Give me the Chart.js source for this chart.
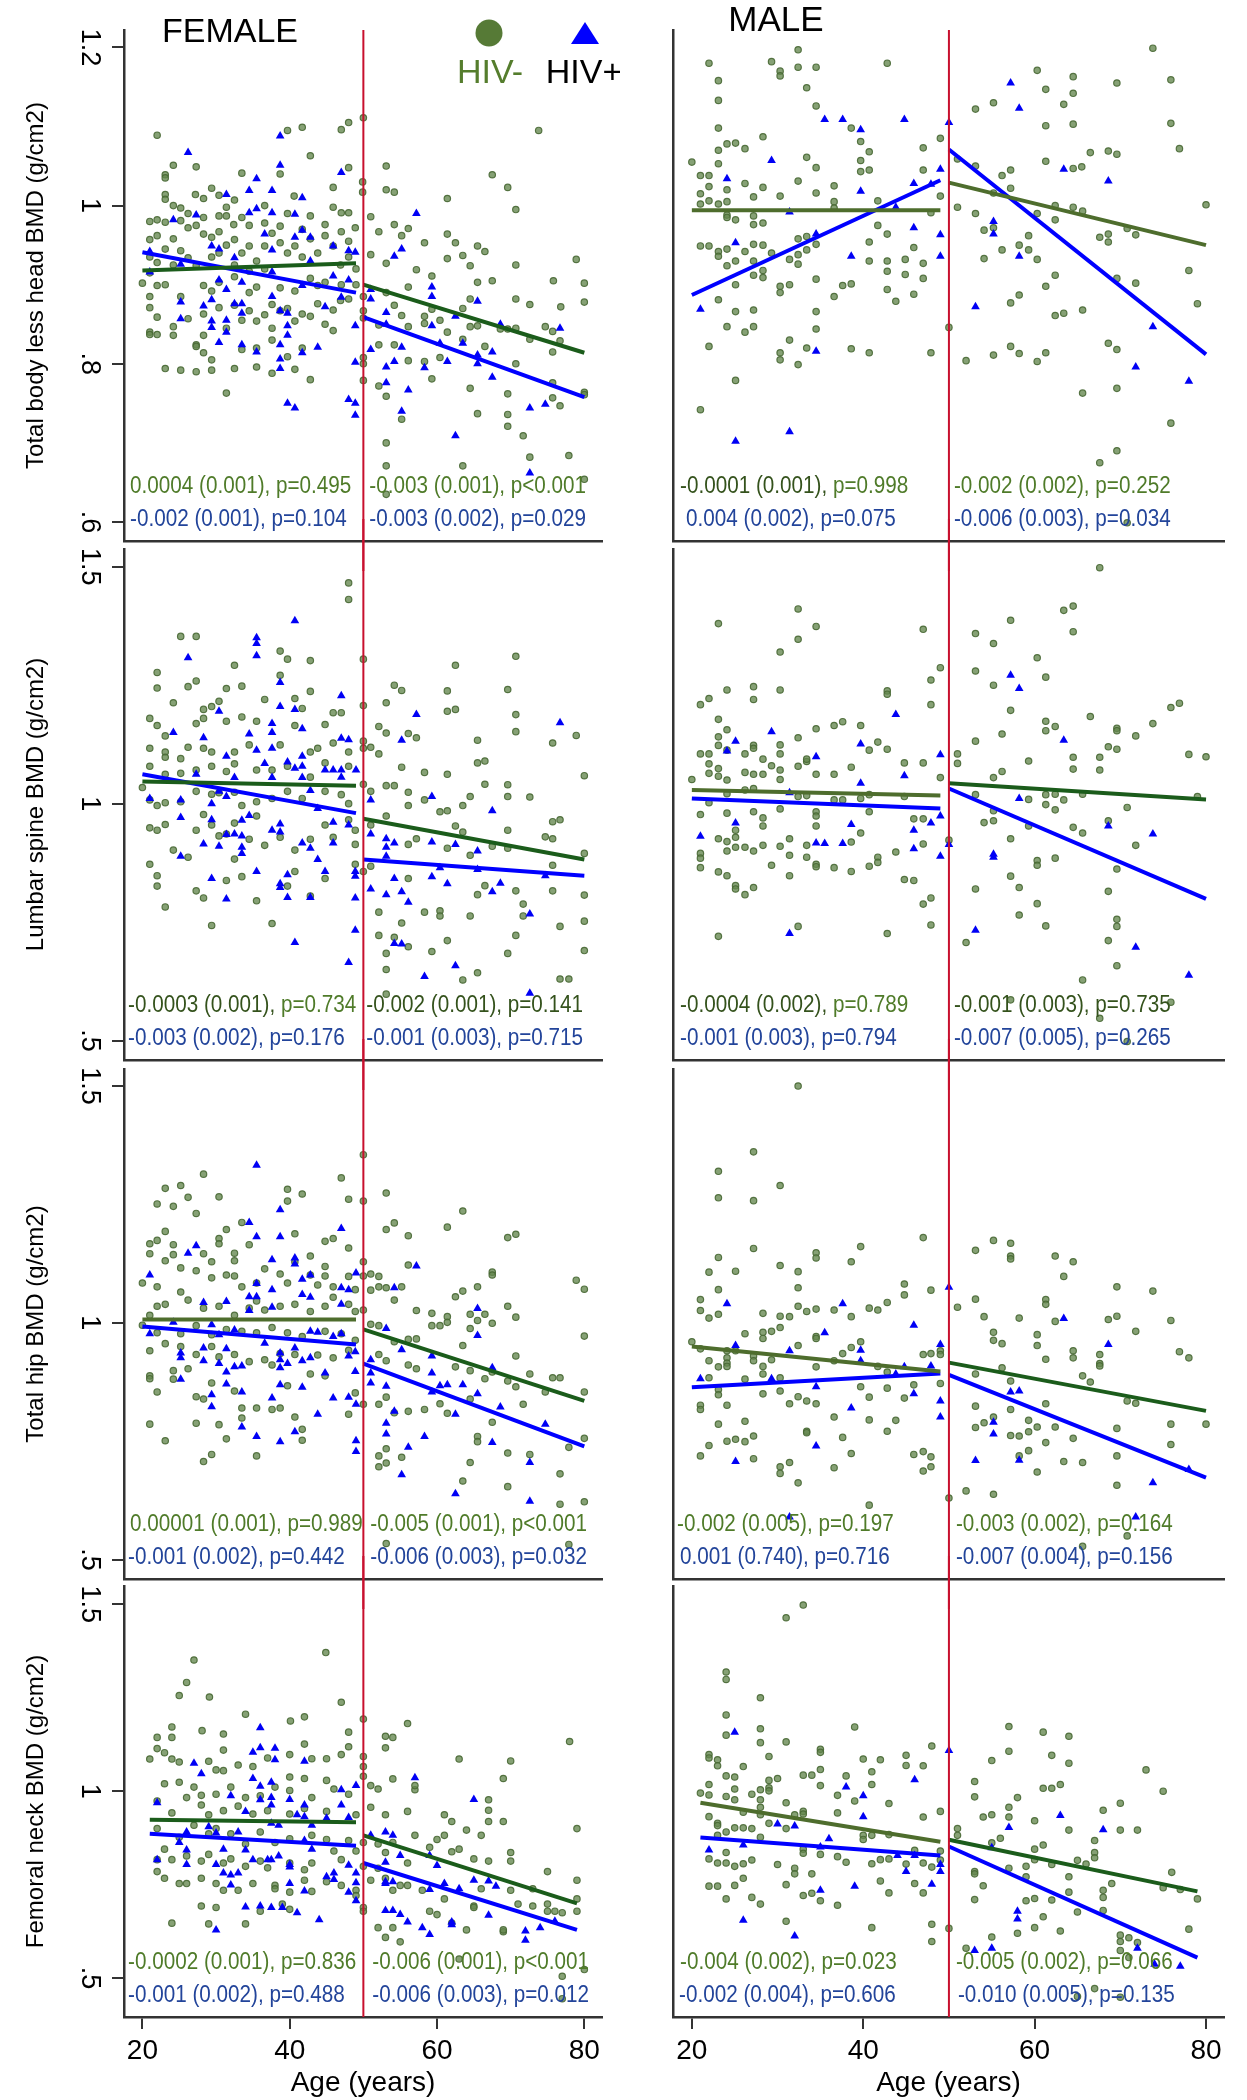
<!DOCTYPE html>
<html>
<head>
<meta charset="utf-8">
<script src="https://cdn.jsdelivr.net/npm/chart.js@4.4.1/dist/chart.umd.min.js"></script>
<style>
  html, body { margin: 0; padding: 0; background: #fff; }
  #page { position: relative; width: 1247px; height: 2100px; overflow: hidden; background: #fff; }
  #page canvas { position: absolute; }
</style>
</head>
<body>
<div id="page"></div>
<script>
// ---- data: [age, BMD] ----
// total body less head, female
const tbGreenF = [[50,1.111],[48,1.105],[47,1.096],[41.7,1.099],[39.7,1.095],[22,1.089],[73.8,1.095],[42.8,1.063],[48,1.048],[38.7,1.040],[24.2,1.051],[27.3,1.049],[23.1,1.039],[23.1,1.035],[33.5,1.041],[53.1,1.050],[67.5,1.039],[69.6,1.023],[53.1,1.020],[54.2,1.017],[49.9,1.030],[49.9,1.017],[61.4,1.009],[70.7,0.995],[23.1,1.014],[23.1,1.008],[29.4,1.022],[30.4,1.013],[27.2,1.014],[28.3,1.009],[32.5,1.007],[31.4,0.998],[24.2,1.0],[25.2,0.997],[21,0.980],[22,0.982],[23.1,0.979],[25.2,0.981],[30.4,0.987],[31.4,0.987],[32.4,0.976],[34.5,0.975],[36.6,0.978],[38.7,0.974],[40.6,1.012],[42.8,0.987],[44.8,0.976],[45.9,0.998],[47,0.991],[48,0.991],[45.9,1.023],[51,0.986],[54.2,0.976],[56.1,0.971],[52.1,0.967],[61.4,0.964],[62.5,0.953],[65.5,0.949],[66.5,0.942],[78.9,0.932],[70.7,0.925],[64.5,0.924],[63.5,0.937],[61.4,0.933],[58.3,0.953],[55.2,0.962],[53.1,0.927],[51,0.938],[57.2,0.919],[59.3,0.911],[65.5,0.903],[67.5,0.905],[75.8,0.905],[80,0.902],[80,0.878],[76.8,0.872],[72.6,0.875],[70.7,0.882],[64.5,0.882],[63.5,0.870],[59.3,0.869],[58.3,0.860],[56.1,0.897],[55.2,0.861],[54.2,0.874],[53.1,0.890],[50,0.885],[50,0.867],[50,0.858],[52.1,0.849],[56.1,0.847],[58.3,0.851],[60.4,0.855],[61.4,0.840],[63.5,0.831],[64.5,0.847],[65.5,0.848],[66.5,0.822],[68.6,0.844],[69.6,0.844],[70.7,0.845],[72.6,0.831],[74.7,0.847],[75.7,0.841],[76.7,0.829],[75.7,0.815],[70.7,0.800],[75.7,0.776],[80,0.764],[80,0.761],[75.7,0.757],[76.7,0.747],[69.6,0.762],[69.6,0.736],[69.6,0.721],[71.7,0.709],[72.6,0.682],[77.9,0.684],[65.5,0.737],[64.5,0.769],[63.5,0.671],[80,0.654],[53.1,0.700],[53.1,0.671],[53.1,0.635],[55.2,0.730],[53.1,0.759],[52.1,0.772],[54.2,0.824],[52.1,0.824],[56.1,0.804],[59.3,0.781],[58.3,0.803],[60.4,0.808],[50,0.779],[50,0.800],[50,0.808],[20,0.902],[21,0.915],[22,0.899],[23.1,0.900],[21,0.885],[21,0.871],[22,0.859],[21,0.840],[21,0.837],[22,0.837],[24.2,0.847],[24.2,0.836],[25.2,0.885],[26.2,0.857],[27.3,0.824],[28.3,0.814],[29.4,0.805],[23.1,0.794],[25.2,0.792],[27.3,0.790],[29.4,0.792],[31.4,0.763],[32.5,0.794],[33.5,0.818],[35.5,0.796],[35.5,0.820],[37.6,0.830],[37.6,0.788],[39.7,0.809],[40.7,0.793],[42.8,0.780],[41.7,0.820],[38.7,0.867],[36.6,0.862],[34.5,0.867],[32.5,0.874],[30.4,0.871],[28.3,0.863],[29.4,0.892],[27.3,0.924],[26.2,0.934],[25.2,0.943],[24.2,0.958],[22,0.962],[21,0.957],[28.3,0.964],[29.4,0.960],[30.4,0.967],[32.5,0.957],[34.5,0.949],[36.6,0.949],[38.7,0.953],[40.7,0.949],[42.8,0.958],[44.8,0.962],[45.9,0.949],[47,0.967],[48,0.935],[48.9,0.972],[42.8,0.908],[43.8,0.899],[44.8,0.903],[40.7,0.892],[38.7,0.896],[35.5,0.897],[34.5,0.917],[32.5,0.910],[30.4,0.903],[28.3,0.899],[43.8,0.876],[45.9,0.868],[48,0.882],[44.8,0.850],[45.9,0.842],[41.7,0.863],[40.7,0.854],[37.6,0.845],[35.5,0.854],[33.5,0.855],[31.4,0.845],[28.3,0.836],[27.3,0.822],[21,0.935],[22,0.928],[23.1,0.945],[24.2,0.925],[26.2,0.972],[27.3,0.975],[29.4,0.935],[31.4,0.950],[33.5,0.940],[35.5,0.930],[36.6,0.920],[37.6,0.965],[39.7,0.940],[41.7,0.935],[43.8,0.940],[46.9,0.925],[48,0.955],[49,0.920],[33.5,0.985],[36.6,1.0],[39.7,0.990],[41.7,0.970],[26.2,0.990],[28.3,0.985],[30.4,0.940],[32.5,0.925],[34.5,0.890],[37.6,0.875],[39.7,0.870],[42.8,0.860],[46.9,0.880],[47,0.900],[49,0.900]];
const tbBlueF = [[38.7,1.088],[26.2,1.067],[38.7,1.051],[47,1.042],[35.5,1.034],[34.5,1.019],[31.4,1.014],[37.6,1.019],[41.7,1.010],[34.5,0.991],[35.5,0.996],[37.6,0.991],[40.7,0.989],[57.2,0.990],[27.3,0.988],[24.2,0.982],[41.7,0.969],[36.6,0.964],[40.7,0.960],[42.8,0.960],[29.4,0.949],[30.4,0.945],[37.6,0.944],[45.9,0.949],[48,0.943],[48.9,0.941],[55.2,0.945],[54.2,0.936],[21,0.942],[21,0.916],[25.2,0.926],[32.5,0.934],[42.8,0.930],[37.6,0.916],[45.9,0.911],[48,0.906],[30.4,0.906],[33.5,0.903],[41.7,0.899],[31.4,0.894],[59.3,0.897],[59.3,0.885],[51,0.894],[51,0.882],[37.6,0.885],[47,0.884],[29.4,0.881],[44.8,0.872],[25.2,0.878],[28.3,0.873],[32.5,0.876],[33.5,0.876],[65.5,0.879],[38.7,0.867],[39.7,0.864],[33.5,0.864],[53.1,0.865],[62.5,0.860],[25.2,0.857],[29.4,0.854],[31.4,0.855],[39.7,0.848],[48.9,0.848],[53.1,0.850],[59.3,0.848],[68.6,0.850],[76.7,0.845],[29.4,0.846],[31.4,0.840],[39.7,0.836],[30.4,0.827],[33.5,0.824],[38.7,0.824],[43.8,0.821],[60.4,0.826],[63.5,0.826],[55.2,0.821],[51,0.818],[35.5,0.815],[41.7,0.814],[65.5,0.811],[67.5,0.815],[38.7,0.806],[48.9,0.802],[54.2,0.803],[61.4,0.803],[38.7,0.794],[53.1,0.796],[58.3,0.795],[65.5,0.800],[67.5,0.783],[53.1,0.776],[56.1,0.767],[39.7,0.750],[40.7,0.744],[48,0.755],[48.9,0.750],[48.9,0.735],[55.2,0.740],[62.5,0.709],[72.6,0.744],[74.7,0.749],[72.6,0.662]];
// total body less head, male
const tbGreenM = [[22,1.180],[29.3,1.182],[30.3,1.170],[30.3,1.164],[32.4,1.197],[32.4,1.175],[34.5,1.175],[42.8,1.180],[33.4,1.149],[23.1,1.158],[23.1,1.133],[34.5,1.126],[23.1,1.098],[38.6,1.098],[28.3,1.087],[24.1,1.078],[25.1,1.079],[26.2,1.072],[23.1,1.070],[39.7,1.081],[40.7,1.068],[33.4,1.061],[39.7,1.057],[23.1,1.053],[20,1.055],[34.5,1.048],[39.7,1.043],[40.7,1.045],[47,1.073],[49,1.085],[47,1.045],[21,1.038],[22,1.038],[22,1.024],[21,1.015],[24.1,1.020],[26.2,1.028],[28.3,1.023],[32.4,1.031],[34.5,1.016],[36.6,1.025],[30.3,1.012],[27.2,1.011],[21,1.002],[22,1.006],[23.1,1.002],[24.1,1.005],[36.6,1.005],[36.6,0.997],[41.7,1.006],[49,1.012],[47.9,0.991],[24.1,0.988],[24.1,0.985],[25.1,0.982],[27.2,0.987],[27.2,0.976],[28.3,0.978],[41.7,0.975],[42.8,0.964],[33.4,0.961],[32.4,0.958],[34.5,0.951],[21,0.949],[22,0.949],[23.1,0.942],[24.1,0.945],[23.1,0.936],[25.1,0.930],[26.2,0.942],[27.2,0.951],[28.3,0.950],[27.2,0.930],[29.3,0.940],[24.1,0.924],[28.3,0.918],[28.3,0.909],[27.2,0.912],[25.1,0.900],[30.3,0.898],[30.3,0.890],[31.4,0.900],[31.4,0.932],[32.4,0.938],[32.4,0.926],[33.4,0.944],[40.7,0.954],[40.7,0.930],[42.8,0.930],[42.8,0.917],[44.9,0.932],[44.9,0.913],[45.9,0.947],[47,0.927],[47,0.908],[34.5,0.907],[36.6,0.885],[37.6,0.899],[38.6,0.901],[42.8,0.894],[43.8,0.879],[45.9,0.888],[23.1,0.881],[25.1,0.866],[27.2,0.868],[24.1,0.847],[26.2,0.840],[27.2,0.847],[34.5,0.866],[34.5,0.844],[22,0.822],[31.4,0.830],[33.4,0.820],[30.3,0.814],[30.3,0.805],[32.4,0.799],[38.6,0.819],[40.7,0.814],[47.9,0.814],[50,0.846],[25.1,0.779],[21,0.742],[73.8,1.199],[60.3,1.171],[64.5,1.163],[69.6,1.155],[75.9,1.159],[61.3,1.147],[64.5,1.142],[63.4,1.128],[55.2,1.130],[53.1,1.122],[61.3,1.101],[64.5,1.103],[75.9,1.104],[76.9,1.072],[66.5,1.067],[68.6,1.069],[69.6,1.065],[51,1.059],[53.1,1.050],[61.3,1.056],[64.5,1.047],[65.5,1.049],[57.2,1.045],[56.2,1.038],[57.2,1.022],[55.2,1.016],[51,0.998],[53.1,0.990],[60.3,0.990],[62.4,1.0],[64.5,0.998],[65.6,0.993],[62.4,0.982],[80,1.001],[70.8,0.971],[71.8,0.963],[54.1,0.969],[55.2,0.972],[59.3,0.962],[67.6,0.960],[68.6,0.964],[68.6,0.954],[56.2,0.944],[58.2,0.950],[59.3,0.944],[60.3,0.932],[54.1,0.933],[62.4,0.912],[61.3,0.898],[58.2,0.887],[57.2,0.877],[69.6,0.908],[71.8,0.902],[78,0.918],[79,0.876],[62.4,0.861],[63.4,0.864],[65.6,0.868],[57.2,0.822],[58.2,0.813],[55.2,0.811],[52,0.804],[60.3,0.803],[61.3,0.814],[68.6,0.826],[69.6,0.818],[65.6,0.763],[69.6,0.769],[75.9,0.725],[67.6,0.675],[69.6,0.690],[70.8,0.599]];
const tbBlueM = [[50,1.105],[35.5,1.109],[37.6,1.109],[39.7,1.096],[44.8,1.109],[57.2,1.155],[58.2,1.123],[29.3,1.057],[24.1,1.034],[39.7,1.018],[45.9,1.028],[47.9,1.027],[49,1.046],[63.4,1.046],[68.6,1.031],[31.4,0.992],[43.8,0.998],[55.2,0.980],[55.2,0.964],[34.5,0.964],[25.1,0.953],[45.9,0.972],[49,0.963],[38.6,0.936],[49,0.936],[58.2,0.936],[21,0.869],[53.1,0.872],[34.5,0.816],[73.8,0.847],[71.8,0.796],[78,0.778],[31.4,0.714],[25.1,0.702]];
// lumbar spine, female
const lsGreenF = [[48,1.466],[48,1.431],[25.2,1.353],[27.3,1.353],[38.7,1.322],[39.7,1.305],[42.8,1.302],[32.5,1.292],[50,1.305],[70.7,1.311],[62.5,1.292],[22,1.277],[22,1.244],[26.2,1.247],[27.3,1.259],[31.4,1.243],[33.5,1.248],[38.7,1.271],[42.8,1.237],[54.2,1.250],[55.2,1.239],[61.4,1.238],[69.6,1.241],[24.2,1.213],[28.3,1.199],[29.4,1.205],[30.4,1.216],[36.6,1.220],[40.7,1.222],[41.7,1.201],[45.9,1.192],[50,1.207],[53.1,1.213],[61.4,1.195],[62.5,1.199],[70.7,1.188],[70.7,1.152],[21,1.180],[22,1.165],[23.1,1.143],[27.3,1.169],[28.3,1.180],[31.4,1.174],[33.5,1.183],[35.5,1.174],[40.7,1.165],[44.8,1.167],[47,1.192],[52.1,1.163],[53.1,1.149],[56.1,1.148],[57.2,1.139],[65.5,1.134],[75.7,1.128],[78.9,1.144],[21,1.117],[23.1,1.109],[23.1,1.098],[25.2,1.095],[26.2,1.119],[28.3,1.117],[29.4,1.109],[32.5,1.109],[34.5,1.124],[38.7,1.124],[42.8,1.109],[43.8,1.117],[45.9,1.128],[48,1.109],[50,1.132],[50,1.117],[51,1.119],[52.1,1.105],[55.2,1.077],[58.3,1.066],[61.4,1.062],[65.5,1.086],[66.5,1.090],[80,1.059],[21,1.079],[23.1,1.062],[25.2,1.064],[27.3,1.071],[29.4,1.079],[31.4,1.068],[32.5,1.084],[35.5,1.071],[37.6,1.071],[39.7,1.079],[42.8,1.056],[44.8,1.086],[48,1.079],[20,1.034],[21,1.008],[22,0.996],[23.1,1.002],[25.2,1.004],[27.3,1.026],[29.4,1.020],[30.4,1.023],[32.5,1.024],[33.5,0.996],[35.5,1.004],[37.6,1.011],[39.7,1.026],[41.7,1.011],[44.8,1.026],[47,1.019],[48,1.0],[50,1.041],[51,1.026],[53.1,1.038],[54.2,1.038],[56.1,1.024],[56.1,0.996],[58.3,1.008],[63.5,0.996],[64.5,1.015],[66.5,1.041],[69.6,1.040],[69.6,1.015],[72.6,1.014],[21,0.949],[22,0.944],[23.1,0.956],[24.2,0.902],[26.2,0.887],[27.3,0.944],[28.3,0.977],[29.4,0.955],[30.4,0.932],[31.4,0.936],[32.5,0.959],[34.5,0.925],[35.5,0.974],[36.6,0.912],[38.7,0.929],[40.7,0.902],[42.8,0.925],[44.8,0.955],[45.9,0.929],[48,0.966],[48.9,0.944],[48.9,0.914],[51,0.955],[53.1,0.974],[56.1,0.914],[57.2,0.926],[60.4,0.983],[61.4,0.985],[62.5,0.953],[63.5,0.940],[61.4,0.906],[64.5,0.891],[67.5,0.910],[69.6,0.944],[69.6,0.906],[74.7,0.930],[75.7,0.926],[75.7,0.962],[76.7,0.966],[80,0.895],[21,0.872],[22,0.848],[22,0.826],[23.1,0.782],[27.3,0.816],[28.3,0.801],[29.4,0.743],[31.4,0.838],[32.5,0.883],[33.5,0.846],[35.5,0.795],[37.6,0.747],[39.7,0.826],[40.7,0.857],[42.8,0.805],[44.8,0.842],[48.9,0.872],[50,0.857],[51,0.868],[52.1,0.771],[52.1,0.722],[53.1,0.684],[53.1,0.650],[53.1,0.598],[54.2,0.718],[55.2,0.748],[56.1,0.698],[56.1,0.842],[58.3,0.771],[59.3,0.688],[60.4,0.774],[60.4,0.763],[61.4,0.711],[63.5,0.628],[64.5,0.763],[65.5,0.643],[65.5,0.808],[66.5,0.827],[69.6,0.684],[70.7,0.722],[70.7,0.816],[71.7,0.788],[71.7,0.763],[75.7,0.816],[75.7,0.870],[76.7,0.741],[76.7,0.630],[77.9,0.630],[80,0.807],[80,0.752],[80,0.690]];
const lsBlueF = [[40.7,1.386],[35.5,1.350],[35.5,1.338],[35.5,1.312],[26.2,1.308],[38.7,1.256],[47,1.228],[38.7,1.205],[40.7,1.199],[30.4,1.195],[57.2,1.188],[37.6,1.169],[41.7,1.158],[76.7,1.171],[24.2,1.150],[37.6,1.150],[34.5,1.147],[28.3,1.139],[55.2,1.134],[47,1.138],[48,1.135],[35.5,1.113],[37.6,1.117],[31.4,1.100],[41.7,1.100],[36.6,1.085],[39.7,1.088],[40.7,1.075],[41.7,1.079],[44.8,1.071],[45.9,1.071],[47,1.071],[49,1.071],[27.3,1.062],[32.5,1.055],[37.6,1.055],[41.7,1.055],[47,1.056],[30.4,1.026],[42.8,1.028],[21,1.011],[25.2,1.008],[31.4,1.015],[51,1.008],[59.3,1.015],[43.8,0.990],[29.4,1.0],[67.5,0.985],[25.2,0.971],[29.4,0.966],[34.5,0.975],[33.5,0.965],[45.9,0.961],[38.7,0.957],[48,0.955],[37.6,0.944],[38.7,0.940],[32.5,0.936],[51,0.936],[31.4,0.935],[33.5,0.932],[53.1,0.926],[45.9,0.917],[41.7,0.917],[54.2,0.917],[59.3,0.919],[28.3,0.915],[30.4,0.910],[53.1,0.908],[33.5,0.908],[62.5,0.914],[42.8,0.906],[65.5,0.900],[33.5,0.895],[25.2,0.889],[53.1,0.889],[43.8,0.882],[65.5,0.861],[60.4,0.865],[35.5,0.857],[44.8,0.857],[48.9,0.857],[48.9,0.847],[74.7,0.848],[59.3,0.846],[29.4,0.842],[39.7,0.850],[54.2,0.842],[38.7,0.831],[38.7,0.823],[61.4,0.831],[68.6,0.832],[51,0.820],[55.2,0.814],[67.5,0.814],[53.1,0.808],[39.7,0.802],[42.8,0.802],[31.4,0.799],[48.9,0.801],[56.1,0.792],[72.6,0.767],[48.9,0.733],[40.7,0.707],[54.2,0.705],[55.2,0.704],[48,0.665],[62.5,0.658],[58.3,0.635],[72.6,0.600]];
// lumbar spine, male
const lsGreenM = [[67.6,1.498],[32.4,1.411],[64.5,1.417],[63.4,1.408],[23.1,1.380],[34.5,1.374],[57.2,1.387],[64.5,1.363],[53.1,1.359],[47,1.368],[55.2,1.338],[32.4,1.347],[30.3,1.320],[60.3,1.308],[49,1.287],[53.1,1.280],[61.3,1.267],[47.9,1.261],[55.2,1.250],[24.1,1.240],[27.2,1.247],[27.2,1.220],[30.3,1.240],[42.8,1.238],[42.8,1.231],[22,1.222],[21,1.209],[47.9,1.209],[57.2,1.197],[75.9,1.203],[76.9,1.212],[66.5,1.184],[61.3,1.174],[62.4,1.163],[61.3,1.154],[69.6,1.159],[69.6,1.154],[73.8,1.169],[71.8,1.143],[23.1,1.178],[24.1,1.156],[36.6,1.165],[37.6,1.173],[39.7,1.165],[32.4,1.139],[34.5,1.158],[56.2,1.147],[53.1,1.132],[41.7,1.130],[42.8,1.115],[40.7,1.113],[23.1,1.141],[23.1,1.123],[24.1,1.113],[27.2,1.123],[27.2,1.117],[30.3,1.124],[30.3,1.105],[26.2,1.105],[21,1.105],[22,1.105],[28.3,1.094],[22,1.084],[23.1,1.074],[29.3,1.080],[32.4,1.079],[33.4,1.089],[33.4,1.094],[38.6,1.077],[44.8,1.086],[47,1.086],[51,1.105],[51,1.085],[59.3,1.090],[64.5,1.098],[67.6,1.098],[67.6,1.071],[64.5,1.073],[68.6,1.120],[69.6,1.115],[78,1.104],[80,1.099],[68.6,0.964],[22,1.064],[23.1,1.058],[24.1,1.050],[20,1.051],[26.2,1.066],[27.2,1.062],[28.3,1.062],[30.3,1.071],[30.3,1.051],[34.5,1.062],[36.6,1.062],[49,1.055],[55.2,1.055],[56.2,1.068],[24.1,1.021],[22,1.002],[26.2,1.029],[27.2,1.032],[32.4,1.015],[33.4,1.017],[36.6,1.008],[37.6,1.008],[39.7,1.011],[40.7,1.019],[44.8,1.015],[53.1,1.019],[59.3,1.009],[61.3,1.019],[62.4,1.020],[63.4,1.008],[65.6,1.020],[79,1.015],[21,0.977],[24.1,0.980],[27.2,0.983],[28.3,0.970],[28.3,0.953],[30.3,0.989],[34.5,0.983],[34.5,0.974],[34.5,0.953],[40.7,0.983],[45.9,0.968],[47,0.968],[54.1,0.960],[55.2,0.964],[55.2,0.985],[59.3,0.953],[61.3,0.998],[62.4,0.987],[64.5,0.950],[65.6,0.938],[70.8,0.992],[23.1,0.926],[24.1,0.920],[24.1,0.900],[25.1,0.944],[25.1,0.929],[25.1,0.908],[26.2,0.908],[27.2,0.900],[28.3,0.912],[30.3,0.910],[31.4,0.926],[33.4,0.912],[38.6,0.919],[39.7,0.938],[47,0.915],[50,0.923],[57.2,0.926],[71.8,0.912],[21,0.895],[21,0.885],[21,0.865],[23.1,0.856],[24.1,0.848],[25.1,0.827],[25.1,0.820],[26.2,0.808],[27.2,0.823],[29.3,0.870],[31.4,0.891],[31.4,0.848],[33.4,0.887],[34.5,0.872],[34.5,0.867],[36.6,0.865],[38.6,0.857],[40.7,0.868],[41.7,0.887],[41.7,0.876],[43.8,0.898],[44.8,0.840],[45.9,0.838],[47,0.788],[47.9,0.801],[47.9,0.744],[42.8,0.726],[32.4,0.741],[23.1,0.720],[60.3,0.880],[60.3,0.870],[62.4,0.885],[69.6,0.862],[57.2,0.847],[58.2,0.823],[53.1,0.820],[60.3,0.789],[58.2,0.765],[61.3,0.742],[68.6,0.815],[69.6,0.756],[69.6,0.741],[68.6,0.711],[69.6,0.658],[52,0.707],[65.6,0.628],[57.2,0.586],[67.6,0.547],[75.9,0.581],[70.8,0.498]];
const lsBlueM = [[57.2,1.271],[58.2,1.243],[43.8,1.188],[29.3,1.152],[25.1,1.132],[24.1,1.111],[39.7,1.126],[63.4,1.134],[34.5,1.099],[49,1.103],[44.8,1.059],[39.7,1.043],[31.4,1.023],[58.2,1.011],[49,0.974],[25.1,0.959],[38.6,0.956],[47.9,0.959],[68.6,0.953],[45.9,0.944],[73.8,0.936],[21,0.931],[34.5,0.917],[35.5,0.916],[37.6,0.916],[50,0.914],[45.9,0.905],[55.2,0.893],[55.2,0.887],[49,0.889],[53.1,0.733],[31.4,0.726],[71.8,0.697],[78,0.638]];
// total hip, female
const hipGreenF = [[50,1.355],[28.3,1.314],[25.2,1.290],[23.1,1.284],[47,1.306],[39.7,1.282],[39.7,1.257],[41.7,1.272],[30.4,1.266],[26.2,1.265],[48,1.261],[50,1.257],[53.1,1.274],[63.5,1.236],[22,1.251],[24.2,1.246],[27.3,1.231],[33.5,1.212],[53.1,1.197],[54.2,1.211],[61.4,1.202],[56.1,1.184],[69.6,1.180],[70.7,1.187],[31.4,1.197],[40.7,1.188],[44.8,1.172],[45.9,1.178],[48,1.158],[21,1.167],[22,1.174],[23.1,1.193],[24.2,1.165],[30.4,1.178],[30.4,1.167],[32.5,1.147],[34.5,1.165],[21,1.146],[24.2,1.144],[23.1,1.131],[25.2,1.116],[28.3,1.146],[29.4,1.129],[32.5,1.131],[36.6,1.114],[40.7,1.129],[42.8,1.141],[44.8,1.119],[50,1.129],[50,1.099],[51,1.103],[52.1,1.098],[56.1,1.122],[67.5,1.107],[67.5,1.101],[78.9,1.090],[80,1.071],[20,1.084],[22,1.076],[25.2,1.065],[27.3,1.110],[29.4,1.095],[31.4,1.101],[32.5,1.099],[33.5,1.076],[35.5,1.084],[38.7,1.103],[39.7,1.084],[42.8,1.101],[43.8,1.080],[44.8,1.099],[45.9,1.076],[48,1.098],[48.9,1.070],[51,1.069],[52.1,1.076],[53.1,1.074],[55.2,1.076],[54.2,1.048],[57.2,1.026],[59.3,1.020],[61.4,1.013],[61.4,1.001],[62.5,1.055],[63.5,1.067],[65.5,1.076],[64.5,1.018],[66.5,1.018],[67.5,0.999],[65.5,1.005],[69.6,1.035],[70.7,1.012],[80,0.972],[21,1.016],[22,1.035],[23.1,1.039],[26.2,1.048],[28.3,1.031],[30.4,1.035],[32.5,1.016],[34.5,1.031],[35.5,1.046],[36.6,1.027],[38.7,1.035],[40.7,1.039],[42.8,1.024],[44.8,1.035],[45.9,1.054],[48,1.039],[48.9,1.024],[50,1.027],[20,0.995],[22,0.979],[23.1,0.956],[25.2,0.977],[27.3,0.994],[29.4,0.975],[31.4,0.986],[33.5,0.982],[35.5,0.979],[37.6,0.990],[39.7,0.979],[41.7,0.971],[44.8,0.982],[47,0.977],[48.9,0.963],[51,0.997],[52.1,0.994],[54.2,0.960],[56.1,0.965],[57.2,0.966],[59.3,0.994],[60.4,0.994],[63.5,0.952],[64.5,0.988],[21,0.941],[24.2,0.899],[25.2,0.950],[27.3,0.933],[29.4,0.950],[30.4,0.928],[32.5,0.933],[34.5,0.918],[36.6,0.922],[37.6,0.911],[38.7,0.935],[40.7,0.933],[43.8,0.932],[45.9,0.926],[48,0.942],[52.1,0.933],[53.1,0.920],[56.1,0.911],[57.2,0.903],[62.5,0.907],[64.5,0.899],[70.7,0.930],[67.5,0.896],[66.5,0.882],[69.6,0.877],[70.7,0.865],[72.6,0.892],[74.7,0.854],[75.7,0.884],[76.7,0.884],[80,0.854],[21,0.888],[21,0.882],[22,0.854],[21,0.786],[24.2,0.881],[26.2,0.903],[27.3,0.844],[28.3,0.839],[29.4,0.873],[30.4,0.785],[31.4,0.755],[32.5,0.856],[33.5,0.820],[33.5,0.799],[35.5,0.820],[37.6,0.817],[38.7,0.820],[39.7,0.867],[40.7,0.801],[41.7,0.775],[41.7,0.752],[42.8,0.892],[44.8,0.888],[48,0.807],[48.9,0.852],[50,0.828],[52.1,0.828],[53.1,0.843],[54.2,0.810],[56.1,0.813],[58.3,0.817],[60.4,0.829],[61.4,0.809],[64.5,0.839],[65.5,0.760],[65.5,0.749],[67.5,0.790],[69.6,0.725],[69.6,0.654],[71.7,0.828],[72.6,0.722],[76.7,0.681],[77.9,0.737],[76.7,0.617],[80,0.756],[80,0.622],[63.5,0.666],[64.5,0.705],[52.1,0.719],[52.1,0.696],[53.1,0.704],[55.2,0.716],[53.1,0.734],[53.1,0.534],[77.9,0.532],[28.3,0.707],[29.4,0.722],[35.5,0.719],[23.1,0.751],[27.3,0.788]];
const hipBlueF = [[35.5,1.333],[38.7,1.239],[47,1.199],[34.5,1.212],[38.7,1.182],[35.5,1.182],[27.3,1.163],[26.2,1.147],[37.6,1.133],[40.7,1.137],[40.7,1.124],[57.2,1.120],[21,1.101],[42.8,1.101],[49,1.105],[35.5,1.083],[41.7,1.092],[54.2,1.074],[37.6,1.070],[47,1.074],[48,1.070],[34.5,1.055],[35.5,1.055],[41.7,1.060],[42.8,1.054],[28.3,1.043],[31.4,1.045],[37.6,1.033],[47,1.039],[65.5,1.030],[34.5,1.026],[24.2,1.001],[29.4,0.996],[32.5,0.985],[42.8,0.982],[43.8,0.980],[53.1,0.988],[21,0.977],[30.4,0.975],[45.9,0.971],[47,0.977],[65.5,0.973],[36.6,0.957],[55.2,0.943],[28.3,0.947],[31.4,0.945],[40.7,0.947],[25.2,0.936],[38.7,0.936],[48,0.930],[48.9,0.939],[59.3,0.930],[25.2,0.926],[28.3,0.920],[30.4,0.914],[38.7,0.922],[41.7,0.920],[42.8,0.926],[51,0.922],[39.7,0.914],[33.5,0.909],[32.5,0.907],[38.7,0.905],[67.5,0.905],[31.4,0.896],[44.8,0.894],[48.9,0.897],[59.3,0.894],[51,0.894],[25.2,0.881],[51,0.873],[31.4,0.871],[53.1,0.866],[38.7,0.869],[60.4,0.867],[61.4,0.869],[63.5,0.869],[59.3,0.854],[41.7,0.864],[29.4,0.848],[33.5,0.854],[65.5,0.850],[37.6,0.841],[45.9,0.841],[48,0.843],[49,0.828],[62.5,0.807],[29.4,0.823],[68.6,0.822],[54.2,0.813],[43.8,0.807],[74.7,0.786],[53.1,0.788],[33.5,0.780],[40.7,0.770],[53.1,0.765],[58.3,0.760],[35.5,0.760],[38.7,0.749],[49,0.751],[49,0.728],[56.1,0.737],[67.5,0.747],[72.6,0.705],[55.2,0.679],[62.5,0.639],[72.6,0.623]];
// total hip, male
const hipGreenM = [[32.4,1.500],[27.2,1.361],[23.1,1.320],[30.3,1.290],[23.1,1.264],[27.2,1.258],[27.2,1.157],[47,1.180],[39.7,1.161],[55.2,1.174],[57.2,1.168],[57.2,1.141],[57.2,1.135],[53.1,1.153],[62.4,1.141],[64.5,1.129],[63.4,1.098],[23.1,1.138],[34.5,1.148],[34.5,1.137],[38.6,1.129],[30.3,1.121],[22,1.107],[25.1,1.109],[32.4,1.108],[32.4,1.074],[23.1,1.070],[44.8,1.082],[44.8,1.059],[47.9,1.069],[69.6,1.076],[73.8,1.067],[53.1,1.050],[61.3,1.049],[61.3,1.039],[21,1.049],[21,1.026],[23.1,1.018],[22,1.010],[28.3,1.020],[29.3,0.982],[30.3,1.014],[31.4,1.013],[32.4,1.035],[33.4,1.024],[34.5,1.029],[36.6,1.027],[38.6,1.013],[40.7,1.031],[41.7,1.027],[42.8,1.043],[54.1,1.013],[58.2,1.010],[62.4,1.003],[68.6,1.007],[69.6,1.014],[75.9,1.005],[51,1.033],[26.2,0.977],[28.3,0.980],[28.3,0.967],[30.3,0.990],[34.5,0.971],[34.5,0.967],[55.2,0.980],[55.2,0.963],[56.2,0.956],[60.3,0.975],[60.3,0.952],[71.8,0.982],[20,0.960],[21,0.945],[24.1,0.941],[24.1,0.926],[25.1,0.941],[27.2,0.930],[27.2,0.920],[22,0.920],[23.1,0.907],[24.1,0.915],[24.1,0.908],[28.3,0.908],[28.3,0.892],[29.3,0.922],[32.4,0.952],[34.5,0.907],[36.6,0.920],[37.6,0.935],[38.6,0.948],[39.7,0.960],[41.7,0.908],[42.8,0.896],[47,0.933],[47.9,0.935],[49,0.941],[49,0.933],[61.3,0.923],[64.5,0.941],[64.5,0.926],[67.6,0.933],[67.6,0.914],[67.6,0.909],[76.9,0.939],[78,0.926],[53.1,0.892],[56.2,0.905],[57.2,0.877],[65.6,0.888],[66.5,0.875],[22,0.884],[23.1,0.859],[23.1,0.848],[24.1,0.826],[26.2,0.881],[28.3,0.850],[30.3,0.884],[30.3,0.856],[32.4,0.844],[33.4,0.835],[34.5,0.829],[31.4,0.829],[39.7,0.865],[40.7,0.843],[42.8,0.862],[45.9,0.869],[44.8,0.841],[49,0.872],[21,0.826],[21,0.817],[23.1,0.786],[26.2,0.792],[36.6,0.801],[40.7,0.795],[42.8,0.771],[43.8,0.794],[22,0.741],[24.1,0.750],[25.1,0.754],[26.2,0.749],[27.2,0.761],[33.4,0.771],[33.4,0.768],[37.6,0.758],[21,0.719],[27.2,0.713],[30.3,0.696],[30.3,0.682],[31.4,0.705],[32.4,0.662],[36.6,0.694],[38.6,0.724],[45.9,0.722],[47,0.728],[47.9,0.717],[47.9,0.696],[47,0.687],[40.7,0.615],[50,0.630],[53.1,0.824],[53.1,0.779],[54.1,0.789],[55.2,0.801],[57.2,0.817],[57.2,0.762],[58.2,0.761],[58.2,0.719],[59.3,0.794],[59.3,0.770],[59.3,0.730],[60.3,0.780],[60.3,0.685],[61.3,0.829],[61.3,0.747],[62.4,0.780],[63.4,0.707],[64.5,0.756],[65.6,0.705],[69.6,0.777],[69.6,0.719],[69.6,0.657],[70.8,0.835],[71.8,0.830],[75.9,0.786],[75.9,0.743],[80,0.786],[52,0.645],[55.2,0.638],[65.6,0.528],[70.8,0.550]];
const hipBlueM = [[50,1.075],[24.1,1.040],[37.6,1.040],[45.9,0.995],[63.4,1.009],[35.5,0.979],[25.1,0.952],[31.4,0.941],[39.7,0.942],[49,0.954],[68.6,0.954],[39.7,0.920],[44.8,0.907],[47.9,0.909],[43.8,0.892],[21,0.882],[29.3,0.882],[34.5,0.865],[57.2,0.854],[58.2,0.856],[45.9,0.850],[49,0.835],[38.6,0.820],[49,0.801],[55.2,0.790],[55.2,0.765],[34.5,0.740],[25.1,0.707],[53.1,0.709],[58.2,0.710],[73.8,0.662],[78,0.690],[31.4,0.590],[71.8,0.590]];
// femoral neck, female
const fnGreenF = [[44.9,1.371],[27,1.351],[26,1.291],[25,1.256],[29.1,1.252],[47,1.238],[34,1.206],[42,1.199],[40.1,1.188],[50,1.193],[56,1.181],[24,1.172],[28.1,1.162],[31,1.153],[48,1.158],[22,1.144],[24,1.144],[53,1.147],[54,1.144],[22,1.114],[23,1.103],[31,1.110],[42,1.126],[48,1.119],[53,1.116],[70,1.081],[78,1.133],[63,1.086],[21,1.086],[24,1.086],[25,1.078],[29,1.080],[33,1.070],[35,1.066],[37,1.089],[40,1.098],[43,1.087],[45,1.087],[47,1.098],[50,1.093],[50,1.066],[50,1.040],[30,1.057],[31,1.055],[40,1.038],[42,1.034],[45,1.029],[69,1.034],[51,1.015],[52,1.006],[54,1.033],[57,1.004],[57,1.015],[23,1.020],[25,1.024],[27,1.011],[28,0.989],[30,0.992],[32,1.011],[34,0.983],[36,0.988],[38,1.011],[40,1.002],[43,0.983],[46,1.006],[48,0.992],[22,0.974],[24,0.942],[26,0.983],[28,0.963],[29,0.937],[31,0.948],[33,0.960],[35,0.939],[37,0.948],[40,0.939],[42,0.954],[45,0.946],[49,0.937],[51,0.957],[53,0.937],[56,0.946],[61,0.937],[62,0.919],[67,0.977],[67,0.949],[69,0.919],[79,0.900],[67,0.919],[64,0.896],[66,0.882],[61,0.882],[60,0.871],[57,0.882],[59,0.850],[62,0.838],[63,0.845],[65,0.819],[70,0.836],[70,0.813],[67,0.813],[22,0.900],[23,0.845],[25,0.877],[27,0.909],[29,0.886],[30,0.900],[32,0.886],[34,0.859],[36,0.891],[38,0.863],[40,0.873],[43,0.882],[45,0.871],[46,0.840],[48,0.868],[49,0.840],[50,0.863],[52,0.859],[53,0.836],[54,0.863],[56,0.808],[22,0.817],[24,0.817],[26,0.827],[28,0.813],[29,0.831],[31,0.808],[32,0.819],[34,0.799],[36,0.813],[37,0.795],[40,0.808],[42,0.790],[43,0.808],[47,0.817],[50,0.799],[52,0.794],[22,0.785],[23,0.767],[25,0.753],[26,0.753],[28,0.767],[30,0.753],[31,0.735],[33,0.735],[35,0.753],[36,0.679],[38,0.748],[40,0.730],[42,0.762],[43,0.732],[45,0.758],[47,0.748],[49,0.735],[49,0.721],[50,0.689],[50,0.679],[51,0.762],[53,0.767],[54,0.735],[55,0.748],[56,0.748],[58,0.735],[59,0.679],[60,0.670],[61,0.712],[62,0.647],[64,0.629],[65,0.693],[65,0.689],[66,0.739],[69,0.624],[69,0.629],[70,0.735],[71,0.698],[73,0.693],[75,0.698],[75,0.679],[76,0.679],[77,0.675],[79,0.679],[79,0.712],[79,0.762],[73,0.739],[75,0.785],[24,0.647],[28,0.693],[29,0.645],[30,0.689],[34,0.645],[38,0.739],[39,0.698],[40,0.684],[52,0.635],[53,0.609],[54,0.635],[55,0.597],[63,0.551],[77,0.505],[77,0.445],[80,0.523]];
const fnBlueF = [[36,1.170],[35,1.104],[36,1.116],[38,1.115],[38,1.084],[42,1.080],[27,1.075],[28,1.047],[35,1.034],[36,1.013],[57,1.036],[37.5,1.024],[47,1.004],[49,1.015],[32,0.988],[36,0.977],[37.5,0.983],[40,0.978],[42,0.963],[22,0.969],[37.5,0.963],[47,0.963],[65,0.978],[41,0.937],[34,0.946],[43,0.909],[42,0.932],[45,0.928],[37.5,0.914],[38.5,0.909],[29,0.905],[48,0.930],[26,0.891],[30,0.888],[33,0.891],[53,0.891],[54,0.882],[51,0.882],[25,0.863],[42,0.868],[43,0.845],[31,0.845],[26,0.843],[38.5,0.827],[34,0.843],[37,0.817],[37.5,0.817],[40,0.804],[35,0.817],[48,0.802],[22,0.817],[26,0.804],[30,0.804],[40,0.797],[55,0.828],[59,0.828],[53,0.810],[60,0.801],[65,0.762],[67,0.760],[31,0.781],[46,0.781],[49,0.781],[32,0.776],[33,0.781],[45,0.771],[46,0.764],[53,0.758],[53,0.753],[54,0.758],[49,0.755],[40,0.753],[32,0.749],[61,0.753],[63,0.739],[68,0.746],[59,0.737],[42,0.733],[48,0.730],[49,0.707],[34,0.690],[36,0.693],[37.5,0.689],[39,0.689],[41,0.675],[53,0.681],[54,0.681],[55,0.670],[67,0.668],[56,0.650],[62,0.650],[62,0.643],[44,0.656],[74,0.635],[76,0.652],[58,0.635],[59,0.617],[30,0.629],[72,0.626],[72,0.601]];
// femoral neck, male
const fnGreenM = [[33,1.498],[31,1.464],[24,1.319],[24,1.299],[28,1.250],[24,1.204],[39,1.172],[28,1.167],[57,1.173],[61,1.158],[64,1.147],[24,1.150],[28,1.130],[31,1.132],[48,1.121],[35,1.112],[35,1.104],[57,1.107],[22,1.098],[22,1.089],[23,1.084],[23,1.068],[29,1.093],[45,1.096],[45,1.069],[40,1.086],[42,1.084],[62,1.096],[64,1.075],[55,1.082],[47,1.068],[26,1.066],[35,1.058],[41,1.052],[73,1.057],[24,1.041],[25,1.038],[25,1.006],[29,1.029],[30,1.034],[33,1.043],[34,1.043],[38,1.041],[41,1.018],[22,1.018],[21,0.995],[22,0.990],[24,0.986],[25,0.977],[27,0.992],[28,1.004],[29,1.009],[29,1.001],[28,0.977],[31,0.969],[35,1.015],[37,0.989],[39,0.974],[43,0.967],[61,1.008],[62,1.008],[63,1.018],[53,1.026],[53,0.985],[58,0.983],[75,1.0],[70,0.968],[68,0.949],[22,0.932],[23,0.914],[23,0.908],[26,0.944],[28,0.957],[28,0.937],[32,0.937],[33,0.946],[33,0.939],[37,0.942],[47,0.931],[49,0.946],[54,0.931],[55,0.937],[57,0.957],[57,0.931],[60,0.921],[64,0.896],[70,0.896],[72,0.896],[24,0.891],[25,0.902],[26,0.902],[27,0.900],[29,0.914],[31,0.900],[40,0.882],[40,0.871],[41,0.882],[43,0.884],[51,0.900],[51,0.882],[56,0.874],[67,0.868],[55,0.862],[23,0.882],[28,0.877],[22,0.819],[23,0.808],[24,0.808],[24,0.836],[25,0.799],[26,0.806],[27,0.816],[30,0.804],[33,0.845],[33,0.834],[35,0.831],[37,0.825],[38,0.810],[41,0.806],[42,0.817],[43,0.819],[45,0.805],[46,0.842],[47,0.808],[48,0.797],[49,0.840],[49,0.816],[60,0.845],[61,0.856],[60,0.817],[62,0.804],[65,0.815],[66,0.805],[67,0.836],[67,0.822],[53,0.785],[53,0.779],[57,0.794],[59,0.799],[59,0.771],[64,0.771],[76,0.783],[75,0.742],[77,0.737],[79,0.712],[32,0.794],[32,0.779],[34,0.779],[22,0.746],[23,0.746],[25,0.748],[26,0.767],[31,0.750],[33,0.721],[34,0.727],[35,0.707],[37,0.695],[42,0.760],[43,0.728],[46,0.753],[47,0.728],[54,0.747],[59,0.707],[60,0.713],[62,0.709],[64,0.730],[68,0.735],[68,0.716],[68,0.681],[69,0.753],[24,0.712],[27,0.716],[28,0.698],[53,0.710],[58,0.620],[60,0.635],[61,0.664],[63,0.626],[65,0.677],[70,0.615],[70,0.598],[70,0.574],[71,0.608],[72,0.595],[78,0.631],[31,0.652],[41,0.635],[48,0.644],[48,0.598],[50,0.633],[55,0.610],[52,0.580],[71,0.555],[67,0.472],[65,0.451],[70,0.449]];
const fnBlueM = [[25,1.158],[50,1.109],[46,1.031],[38,1.011],[40,0.988],[40,0.932],[63,0.935],[30,0.912],[32,0.907],[57,0.903],[68,0.897],[36,0.873],[26,0.856],[35,0.851],[55,0.849],[22,0.843],[44,0.828],[46,0.828],[49,0.804],[49,0.785],[45,0.785],[48,0.751],[39,0.746],[35,0.735],[58,0.679],[58,0.658],[26,0.655],[32,0.613],[53,0.574],[55,0.580],[72,0.580],[74,0.537],[77,0.532]];

// piecewise fits, split at age 50: [x1, y1, x2, y2, colour key]
const tbFitF  = [[20,0.918,49,0.927,'g'],[20,0.941,49,0.890,'b'],[50,0.900,80,0.814,'g'],[50,0.859,80,0.758,'b']];
const tbFitM  = [[20,0.994,49,0.994,'o'],[20,0.887,49,1.032,'b'],[50,1.029,80,0.950,'o'],[50,1.071,80,0.812,'b']];
const lsFitF  = [[20,1.047,49,1.038,'g'],[20,1.062,49,0.980,'b'],[50,0.968,80,0.882,'g'],[50,0.882,80,0.848,'b']];
const lsFitM  = [[20,1.029,49,1.017,'o'],[20,1.011,49,0.990,'b'],[50,1.043,80,1.009,'g'],[50,1.032,80,0.799,'b']];
const hipFitF = [[20,1.007,49,1.007,'o'],[20,0.992,49,0.954,'b'],[50,0.986,80,0.835,'g'],[50,0.914,80,0.739,'b']];
const hipFitM = [[20,0.950,49,0.897,'o'],[20,0.864,49,0.893,'b'],[50,0.916,80,0.814,'g'],[50,0.890,80,0.673,'b']];
const fnFitF  = [[21,0.924,49,0.917,'g'],[21,0.886,49,0.854,'b'],[50,0.882,79,0.700,'g'],[50,0.808,79,0.629,'b']];
const fnFitM  = [[21,0.969,49,0.865,'o'],[21,0.876,49,0.828,'b'],[50,0.870,79,0.732,'g'],[50,0.852,79,0.555,'b']];

// slope (SE), p annotations: [side, line, dx, parts]
const tbNotesF = [['L',1,6,[['0.0004 (0.001), p=0.495','g']]],['L',2,6,[['-0.002 (0.001), p=0.104','b']]],['R',1,6,[['-0.003 (0.001), p<0.001','g']]],['R',2,6,[['-0.003 (0.002), p=0.029','b']]]];
const tbNotesM = [['L',1,7,[['-0.0001 (0.001), ','d'],['p=0.998','g']]],['L',2,13,[['0.004 (0.002), p=0.075','b']]],['R',1,5,[['-0.002 (0.002), p=0.252','g']]],['R',2,5,[['-0.006 (0.003), p=0.034','b']]]];
const lsNotesF = [['L',1,4,[['-0.0003 (0.001), ','d'],['p=0.734','g']]],['L',2,4,[['-0.003 (0.002), p=0.176','b']]],['R',1,3,[['-0.002 (0.001), p=0.141','d']]],['R',2,3,[['-0.001 (0.003), p=0.715','b']]]];
const lsNotesM = [['L',1,7,[['-0.0004 (0.002), ','d'],['p=0.789','g']]],['L',2,7,[['-0.001 (0.003), p=0.794','b']]],['R',1,5,[['-0.001 (0.003), p=0.735','d']]],['R',2,5,[['-0.007 (0.005), p=0.265','b']]]];
const hipNotesF = [['L',1,6,[['0.00001 (0.001), p=0.989','g']]],['L',2,4,[['-0.001 (0.002), p=0.442','b']]],['R',1,7,[['-0.005 (0.001), p<0.001','g']]],['R',2,7,[['-0.006 (0.003), p=0.032','b']]]];
const hipNotesM = [['L',1,4,[['-0.002 (0.005), p=0.197','g']]],['L',2,7,[['0.001 (0.740), p=0.716','b']]],['R',1,7,[['-0.003 (0.002), p=0.164','g']]],['R',2,7,[['-0.007 (0.004), p=0.156','b']]]];
const fnNotesF = [['L',1,4,[['-0.0002 (0.001), p=0.836','g']]],['L',2,4,[['-0.001 (0.002), p=0.488','b']]],['R',1,9,[['-0.006 (0.001), p<0.001','g']]],['R',2,9,[['-0.006 (0.003), p=0.012','b']]]];
const fnNotesM = [['L',1,7,[['-0.004 (0.002), p=0.023','g']]],['L',2,6,[['-0.002 (0.004), p=0.606','b']]],['R',1,7,[['-0.005 (0.002), p=0.066','g']]],['R',2,9,[['-0.010 (0.005), p=0.135','b']]]];

// axis ticks and titles
const xTickValues = [20, 40, 60, 80];
const yTickValuesTB = [0.6, 0.8, 1, 1.2];
const yTickLabelsTB = ['.6', '.8', '1', '1.2'];
const yTickValuesBMD = [0.5, 1, 1.5];
const yTickLabelsBMD = ['.5', '1', '1.5'];
const yTitles = ['Total body less head BMD (g/cm2)', 'Lumbar spine BMD (g/cm2)', 'Total hip BMD (g/cm2)', 'Femoral neck BMD (g/cm2)'];

// ---- look and layout ----
const FONT = '"Liberation Sans", Arial, Helvetica, sans-serif';
const TXT = { g: '#4f7b29', d: '#34521c', b: '#22449a' };
const FIT = { g: '#1b5c1b', o: '#4e6d2d', b: '#0000ff' };
const RED = '#c8102e';
const AXIS = '#333333';

const COLS = {
  L: { left: 0, width: 620, chartL: 124, chartR: 602, xMin: 17.5, xMax: 82.4, yAxis: true },
  R: { left: 620, width: 627, chartL: 53, chartR: 604, xMin: 17.8, xMax: 82.1, yAxis: false }
};
const ROWS = [
  { top: 30, bottom: 541, yMin: 0.576, yMax: 1.222 },
  { top: 549, bottom: 1060, yMin: 0.459, yMax: 1.5375 },
  { top: 1069, bottom: 1579, yMin: 0.459, yMax: 1.536 },
  { top: 1586, bottom: 2017, yMin: 0.396, yMax: 1.549 }
];

const PANELS = [
  { id: 'p0L', r: 0, side: 'L', green: tbGreenF, blue: tbBlueF, fit: tbFitF, notes: tbNotesF },
  { id: 'p0R', r: 0, side: 'R', green: tbGreenM, blue: tbBlueM, fit: tbFitM, notes: tbNotesM },
  { id: 'p1L', r: 1, side: 'L', green: lsGreenF, blue: lsBlueF, fit: lsFitF, notes: lsNotesF },
  { id: 'p1R', r: 1, side: 'R', green: lsGreenM, blue: lsBlueM, fit: lsFitM, notes: lsNotesM },
  { id: 'p2L', r: 2, side: 'L', green: hipGreenF, blue: hipBlueF, fit: hipFitF, notes: hipNotesF },
  { id: 'p2R', r: 2, side: 'R', green: hipGreenM, blue: hipBlueM, fit: hipFitM, notes: hipNotesM },
  { id: 'p3L', r: 3, side: 'L', green: fnGreenF, blue: fnBlueF, fit: fnFitF, notes: fnNotesF },
  { id: 'p3R', r: 3, side: 'R', green: fnGreenM, blue: fnBlueM, fit: fnFitM, notes: fnNotesM }
];
const notesById = {};
PANELS.forEach(p => { notesById[p.id] = p.notes; });

// text that is not a data mark: headers, legend, slope notes
const panelText = {
  id: 'panelText',
  afterDraw(chart) {
    const { ctx, chartArea } = chart;
    const id = chart.canvas.id;
    const redX = chart.scales.x.getPixelForValue(50);
    ctx.save();
    ctx.font = '23.5px ' + FONT;
    ctx.textBaseline = 'middle';
    ctx.textAlign = 'left';
    (notesById[id] || []).forEach(([side, line, dx, parts]) => {
      const x0 = (side === 'L' ? chartArea.left : redX) + dx;
      const y = chartArea.bottom - (line === 1 ? 54 : 21);
      ctx.save();
      ctx.translate(x0, y);
      ctx.scale(0.88, 1);
      let x = 0;
      parts.forEach(([txt, c]) => {
        ctx.fillStyle = TXT[c];
        ctx.fillText(txt, x, 0);
        x += ctx.measureText(txt).width;
      });
      ctx.restore();
    });
    ctx.textAlign = 'center';
    if (id === 'p0L') {
      ctx.fillStyle = '#000';
      ctx.font = '34px ' + FONT;
      ctx.fillText('FEMALE', 230, 33);
      ctx.fillStyle = '#567a36';
      ctx.beginPath(); ctx.arc(489, 33, 13.5, 0, Math.PI * 2); ctx.fill();
      ctx.fillStyle = '#0000ff';
      ctx.beginPath(); ctx.moveTo(585, 22); ctx.lineTo(599, 44); ctx.lineTo(571, 44); ctx.closePath(); ctx.fill();
      ctx.fillStyle = '#557d2d';
      ctx.fillText('HIV-', 490, 74);
      ctx.fillStyle = '#000';
      ctx.fillText('HIV+', 584, 74);
    }
    if (id === 'p0R') {
      ctx.fillStyle = '#000';
      ctx.font = '35px ' + FONT;
      ctx.fillText('MALE', 156, 21);
    }
    ctx.restore();
  }
};

const page = document.getElementById('page');

function makePanel(p) {
  const row = ROWS[p.r], col = COLS[p.side];
  const last = p.r === ROWS.length - 1;
  const cTop = p.r === 0 ? 0 : row.top - 30;
  const cBot = last ? 2100 : row.bottom + 30;
  const cv = document.createElement('canvas');
  cv.id = p.id;
  cv.width = col.width;
  cv.height = cBot - cTop;
  cv.style.left = col.left + 'px';
  cv.style.top = cTop + 'px';
  cv.style.width = col.width + 'px';
  cv.style.height = (cBot - cTop) + 'px';
  page.appendChild(cv);

  const yVals = p.r === 0 ? yTickValuesTB : yTickValuesBMD;
  const yLabs = p.r === 0 ? yTickLabelsTB : yTickLabelsBMD;

  const datasets = [];
  datasets.push({
    type: 'line',
    data: [{ x: 50, y: p.r === 0 ? row.yMax : row.yMax + 1 }, { x: 50, y: last ? row.yMin : row.yMin - 1 }],
    borderColor: RED, borderWidth: 2, pointRadius: 0, clip: false, order: 0
  });
  p.fit.forEach(([x1, y1, x2, y2, c]) => {
    datasets.push({
      type: 'line',
      data: [{ x: x1, y: y1 }, { x: x2, y: y2 }],
      borderColor: FIT[c], borderWidth: 4, pointRadius: 0, order: 1
    });
  });
  datasets.push({
    label: 'HIV+',
    data: p.blue.map(([x, y]) => ({ x, y })),
    pointStyle: 'triangle', pointRadius: 5,
    backgroundColor: '#0000f5', borderColor: '#0000f5', borderWidth: 0, order: 2
  });
  datasets.push({
    label: 'HIV-',
    data: p.green.map(([x, y]) => ({ x, y })),
    pointStyle: 'circle', pointRadius: 3.2,
    backgroundColor: 'rgba(100,134,78,0.78)', borderColor: 'rgba(72,104,52,0.9)', borderWidth: 1.2, order: 3
  });

  new Chart(cv, {
    type: 'scatter',
    data: { datasets },
    options: {
      responsive: false,
      animation: false,
      devicePixelRatio: 1,
      layout: { padding: { top: row.top - cTop, right: col.width - col.chartR, left: 0, bottom: 0 } },
      plugins: { legend: { display: false }, tooltip: { enabled: false } },
      scales: {
        x: {
          type: 'linear', position: 'bottom', min: col.xMin, max: col.xMax,
          afterBuildTicks: s => { s.ticks = xTickValues.map(v => ({ value: v })); },
          afterFit: s => { s.height = cBot - row.bottom; },
          grid: { display: last, drawOnChartArea: false, drawTicks: true, tickLength: 12, color: AXIS, lineWidth: 2 },
          border: { display: true, color: AXIS, width: 2.5 },
          ticks: { display: last, color: '#000', padding: 5, maxRotation: 0, autoSkip: false, font: { family: FONT, size: 28 } },
          title: { display: last, text: 'Age (years)', color: '#000', font: { family: FONT, size: 28 }, padding: { top: 0, bottom: 0 } }
        },
        y: {
          type: 'linear', position: 'left', min: row.yMin, max: row.yMax,
          afterBuildTicks: s => { s.ticks = yVals.map(v => ({ value: v })); },
          afterFit: s => { s.width = col.chartL; },
          grid: { display: col.yAxis, drawOnChartArea: false, drawTicks: true, tickLength: 12, color: AXIS, lineWidth: 2 },
          border: { display: true, color: AXIS, width: 2.5 },
          ticks: {
            display: col.yAxis, color: '#000', padding: 4, crossAlign: 'center',
            minRotation: -90, maxRotation: -90, font: { family: FONT, size: 27 },
            callback: (v, i) => yLabs[i]
          },
          title: { display: col.yAxis, text: yTitles[p.r], color: '#000', font: { family: FONT, size: 24 }, padding: { top: 22, bottom: 0 } }
        }
      }
    },
    plugins: [panelText]
  });
}

PANELS.forEach(makePanel);
</script>
</body>
</html>
